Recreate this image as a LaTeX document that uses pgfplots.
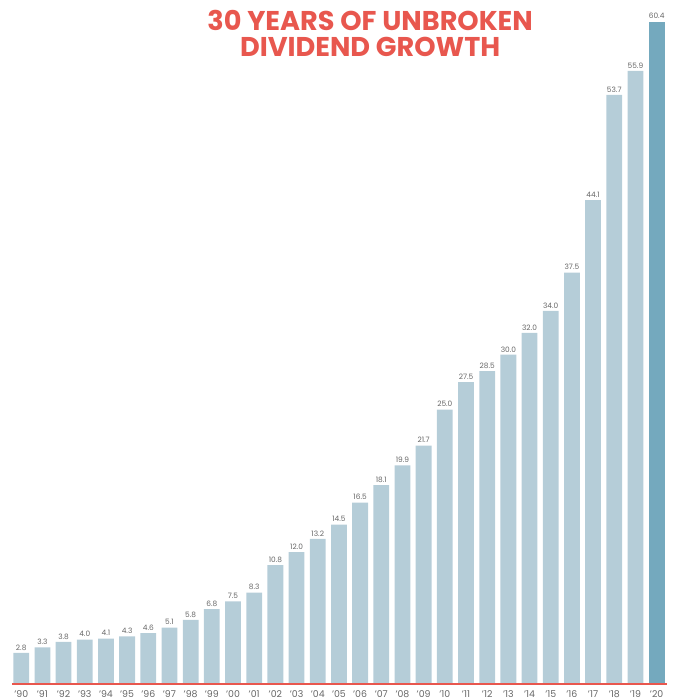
\documentclass[border=0pt]{standalone}
\usepackage{fontspec}
\setmainfont{Poppins}
\newfontfamily\titlefont{Poppins}[UprightFont=* Bold]
\usepackage{pgfplots}
\pgfplotsset{compat=1.18}
\definecolor{barlight}{HTML}{B5CDD8}
\definecolor{bardark}{HTML}{74A9BE}
\definecolor{titlered}{HTML}{E8574E}
\definecolor{lbl}{HTML}{666666}
\begin{document}
\begin{tikzpicture}
\begin{axis}[
  scale only axis, width=684pt, height=689pt,
  xmin=-1.002, xmax=30.886, ymin=-0.09, ymax=61.98,
  axis line style={draw=none}, tick style={draw=none}, clip=false,
  ytick=\empty,
  ybar, bar width=16pt, bar shift=0pt,
  xtick={0,...,30},
  xticklabels={’90,’91,’92,’93,’94,’95,’96,’97,’98,’99,’00,’01,’02,’03,’04,’05,’06,’07,’08,’09,’10,’11,’12,’13,’14,’15,’16,’17,’18,’19,’20},
  xticklabel style={font=\fontsize{9.5}{10}\selectfont, text=lbl, inner sep=2pt},
  nodes near coords,
  every node near coord/.append style={font=\fontsize{7.5}{8}\selectfont, text=lbl, inner sep=2.5pt},
  /pgf/number format/.cd, fixed, fixed zerofill, precision=1, assume math mode=true,
]
\addplot[draw=none, fill=barlight] coordinates {
(0,2.8) (1,3.3) (2,3.8) (3,4.0) (4,4.1) (5,4.3) (6,4.6) (7,5.1) (8,5.8) (9,6.8)
(10,7.5) (11,8.3) (12,10.8) (13,12.0) (14,13.2) (15,14.5) (16,16.5) (17,18.1) (18,19.9) (19,21.7)
(20,25.0) (21,27.5) (22,28.5) (23,30.0) (24,32.0) (25,34.0) (26,37.5) (27,44.1) (28,53.7) (29,55.9)};
\addplot[draw=none, fill=bardark] coordinates {(30,60.4)};
\addplot[sharp plot, no markers, nodes near coords={}, draw=titlered, line width=2pt] coordinates {(-0.443,0) (30.47,0)};
\node[anchor=north, font=\titlefont\fontsize{27.5}{27}\selectfont, text=titlered, align=center, inner sep=0pt]
  at (rel axis cs:0.548,0.992) {30 YEARS OF UNBROKEN\\DIVIDEND GROWTH};
\end{axis}
\end{tikzpicture}
\end{document}
